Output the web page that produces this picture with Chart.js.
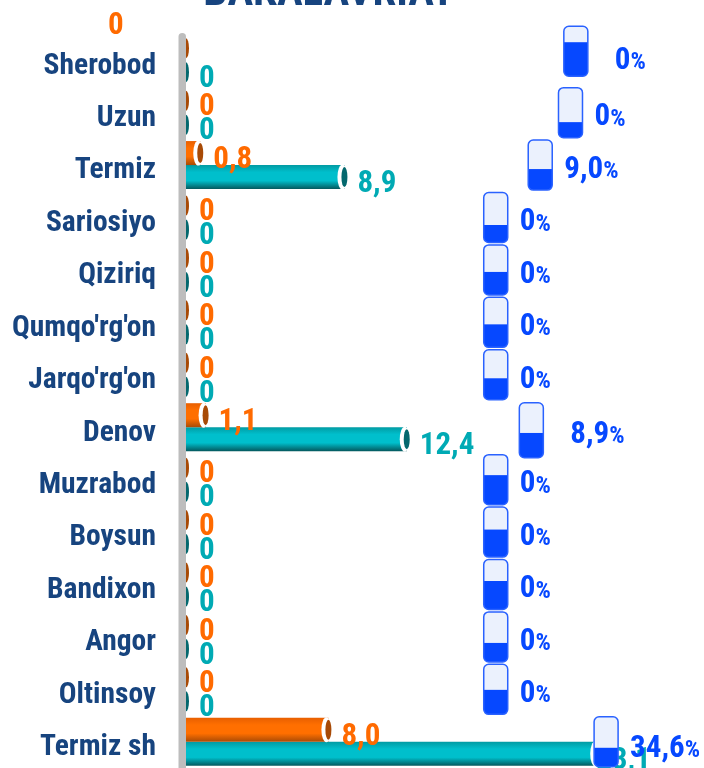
<!DOCTYPE html>
<html><head><meta charset="utf-8">
<style>html,body{margin:0;padding:0;background:#fff;overflow:hidden}#wrap{width:704px;height:768px;position:relative}</style>
<script src="https://cdn.jsdelivr.net/npm/chart.js@4/dist/chart.umd.min.js"></script>
</head><body><div id="wrap"><canvas id="c" width="704" height="768"></canvas></div>
<script>
const categories=["Sherobod","Uzun","Termiz","Sariosiyo","Qiziriq","Qumqo'rg'on","Jarqo'rg'on","Denov","Muzrabod","Boysun","Bandixon","Angor","Oltinsoy","Termiz sh"];
const orangeValues=[0,0,0.8,0,0,0,0,1.1,0,0,0,0,0,8.0];
const tealValues=[0,0,8.9,0,0,0,0,12.4,0,0,0,0,0,23.1];
const percentLabels=["0","0","9,0","0","0","0","0","8,9","0","0","0","0","0","34,6"];
const gaugeFill=[0.68,0.31,0.42,0.35,0.46,0.46,0.43,0.45,0.59,0.55,0.57,0.38,0.49,0.38];
const gaugeAnchor=[21.9,21.6,19.9,17.4,17.4,17.4,17.4,19.4,17.4,17.4,17.4,17.4,17.4,23.6];
const titleText="BAKALAVRIAT";
const FONT="'Roboto Condensed','Liberation Sans Narrow','Roboto',sans-serif";
const ORANGE="#ff6a00",TEAL="#00aab4",BLUE="#0648ff",NAVY="#17447f";
const fmt=v=>v===0?"0":String(v.toFixed(1)).replace(".",",");
function grad(stops,side){return c=>{const s=c.chart.scales.y;if(!s||c.dataIndex===undefined)return stops[1];
 const yc=s.getPixelForValue(c.dataIndex),h=24;if(!isFinite(yc))return stops[1];const t=side<0?yc-h:yc;
 const g=c.chart.ctx.createLinearGradient(0,t,0,t+h);
 g.addColorStop(0,stops[0]);g.addColorStop(.3,stops[1]);g.addColorStop(.65,stops[1]);g.addColorStop(1,stops[2]);return g}}
const extras={id:'extras',
 beforeDatasetsDraw(ch){const {ctx,chartArea:a}=ch;ctx.save();ctx.fillStyle="#bdbdbd";ctx.beginPath();ctx.roundRect(a.left-7.5,a.top-1,7.5,a.bottom-a.top+2,[4,4,0,0]);ctx.fill();ctx.restore()},
 afterDatasetsDraw(ch){const {ctx,chartArea:a}=ch;ctx.save();
  [[0,orangeValues,"#a84a06",ORANGE],[1,tealValues,"#04686e",TEAL]].forEach(([d,vals,cap,col])=>{
   ch.getDatasetMeta(d).data.forEach((el,i)=>{const x=el.x,y=el.y;
    ctx.save();ctx.beginPath();ctx.rect(a.left,a.top-20,704,800);ctx.clip();
    if(vals[i]>0){ctx.fillStyle="#fff";ctx.beginPath();ctx.ellipse(x-2,y,5,12.5,0,0,7);ctx.fill();}
    ctx.fillStyle=cap;ctx.beginPath();ctx.ellipse(x,y,3,10,0,0,7);ctx.fill();ctx.restore();
    let lx=x+13,ly=y+7;if(d===0&&i===0){lx=108;ly=26}if(d===1&&i===13){lx=x-1}
    ctx.font="bold 31px "+FONT;ctx.textAlign="left";ctx.textBaseline="middle";ctx.fillStyle=col;ctx.fillText(fmt(vals[i]),lx,ly);
   })});
  ctx.restore()}};
const gauges={id:'gauges',afterDraw(ch){const {ctx}=ch;ctx.save();
  ch.getDatasetMeta(2).data.forEach((el,i)=>{const w=24,h=i===7?55:50,x=el.x-w/2,y=el.y-h/2+(i===0?-9:i===7?3:0);
   ctx.beginPath();ctx.roundRect(x,y,w,h,5);ctx.fillStyle="#ebf1fd";ctx.fill();
   ctx.save();ctx.clip();ctx.fillStyle=BLUE;ctx.fillRect(x,y+h*(1-gaugeFill[i]),w,h*gaugeFill[i]);ctx.restore();
   ctx.beginPath();ctx.roundRect(x,y,w,h,5);ctx.strokeStyle="#2a62ff";ctx.lineWidth=1.5;ctx.stroke();
   const gap=(i===0||i===7)?27:12;const tx=x+w+gap,ty=el.y+5+(i===0?-4:0)+(i===7?3:0)+(i===13?2:0);
   ctx.textBaseline="middle";ctx.textAlign="left";ctx.fillStyle=BLUE;ctx.font="bold 31px "+FONT;ctx.fillText(percentLabels[i],tx,ty);
   const m=ctx.measureText(percentLabels[i]).width;ctx.font="bold 24px "+FONT;ctx.fillText("%",tx+m,ty+2);
  });ctx.restore()}};
new Chart(document.getElementById('c'),{type:'bar',
 data:{labels:categories,datasets:[
  {label:"A",data:orangeValues,backgroundColor:grad(["#e85f00","#ff6f00","#a84a06"],-1),borderWidth:0},
  {label:"B",data:tealValues,backgroundColor:grad(["#019ba3","#00bfcc","#04585d"],1),borderWidth:0},
  {label:"C",type:'line',data:gaugeAnchor,showLine:false,pointRadius:0,pointHoverRadius:0}
 ]},
 options:{indexAxis:'y',responsive:false,animation:false,
  layout:{padding:{top:34,bottom:0,left:0,right:0}},
  categoryPercentage:.916,barPercentage:1,
  plugins:{legend:{display:false},tooltip:{enabled:false},title:{display:false}},
  scales:{
   x:{min:0,max:29.1,display:false},
   y:{afterFit(s){s.width=186;s.paddingTop=0;s.paddingBottom=0},grid:{display:false,drawTicks:false},border:{display:false},
      ticks:{color:NAVY,padding:30,labelOffset:6,font:{family:FONT,size:29.5,weight:'bold'},autoSkip:false}}
  }},
 plugins:[extras,gauges,{id:'ttl',afterDraw(ch){const c=ch.ctx;c.save();c.font="bold 43px "+FONT;c.fillStyle=NAVY;c.textAlign="center";c.textBaseline="alphabetic";c.fillText(titleText,329,5);c.restore()}}]
});
</script></body></html>
